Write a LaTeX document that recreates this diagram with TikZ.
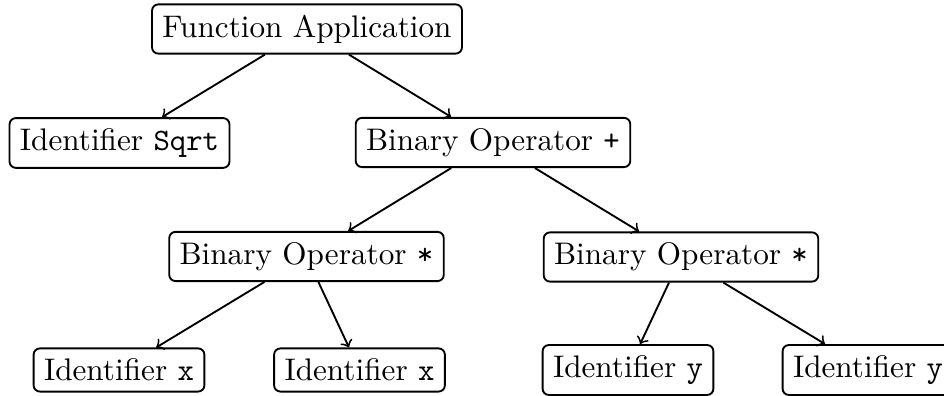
\documentclass[tikz,border=0pt]{standalone}
\begin{document}
\begin{tikzpicture}[x=0.3205pt,y=-0.3205pt,
  box/.style={draw, semithick, rounded corners=2pt, inner sep=3.333pt},
  edge/.style={->, semithick}]
\useasboundingbox (0,0) rectangle (944,396);
\node[box] (fa) at (307,29) {Function Application};
\node[box] (sqrt) at (119.5,143) {Identifier \texttt{Sqrt}};
\node[box] (plus) at (493,142.5) {Binary Operator \texttt{+}};
\node[box] (mulL) at (306.5,256.5) {Binary Operator \texttt{*}};
\node[box] (mulR) at (681,257) {Binary Operator \texttt{*}};
\node[box] (x1) at (119,370) {Identifier \texttt{x}};
\node[box] (x2) at (359.5,370) {Identifier \texttt{x}};
\node[box] (y1) at (628,370) {Identifier \texttt{y}};
\node[box] (y2) at (868,370) {Identifier \texttt{y}};
\draw[edge] (fa) -- (sqrt);
\draw[edge] (fa) -- (plus);
\draw[edge] (plus) -- (mulL);
\draw[edge] (plus) -- (mulR);
\draw[edge] (mulL) -- (x1);
\draw[edge] (mulL) -- (x2);
\draw[edge] (mulR) -- (y1);
\draw[edge] (mulR) -- (y2);
\end{tikzpicture}
\end{document}
